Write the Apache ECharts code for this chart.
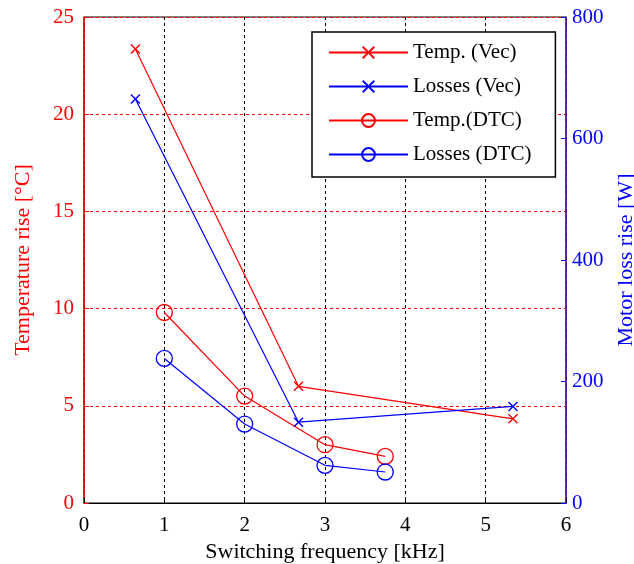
<!DOCTYPE html>
<html>
<head>
<meta charset="utf-8">
<script src="https://cdn.jsdelivr.net/npm/echarts@6/dist/echarts.min.js"></script>
<style>html,body{margin:0;padding:0;background:#fff;}#c{width:634px;height:564px;}</style>
</head>
<body>
<div id="c"></div>
<script>
// Data
var freqVec = [0.64, 2.67, 5.34];
var tempVec = [23.35, 6.0, 4.33];
var lossVec = [665, 133, 159];
var freqDTC = [1, 2, 3, 3.75];
var tempDTC = [9.8, 5.5, 3.0, 2.4];
var lossDTC = [238, 130, 62, 51];
var xTicks = [0, 1, 2, 3, 4, 5, 6];
var tempTicks = [0, 5, 10, 15, 20, 25];
var lossTicks = [0, 200, 400, 600, 800];

function pairs(xs, ys) { return xs.map(function (x, i) { return [x, ys[i]]; }); }

var FONT = '"Liberation Serif","Times New Roman",serif';
var RED = '#ff0000', BLUE = '#0000ff';
var CROSS = 'path://M0,1L1,0L10,9L9,10Z M9,0L10,1L1,10L0,9Z';

var chart = echarts.init(document.getElementById('c'), null, { renderer: 'canvas' });
chart.setOption({
  animation: false,
  backgroundColor: '#fff',
  grid: { left: 84, top: 17, width: 482, height: 486, outerBoundsMode: 'none', containLabel: false,
          show: true, borderColor: '#000', borderWidth: 1, backgroundColor: 'transparent' },
  legend: {
    orient: 'vertical', left: 312, top: 32,
    padding: [10, 24, 12, 16], itemGap: 13, itemWidth: 79, itemHeight: 16,
    backgroundColor: '#fff', borderColor: '#000', borderWidth: 1.5,
    textStyle: { fontFamily: FONT, fontSize: 21, color: '#000' },
    data: ['Temp. (Vec)', 'Losses (Vec)', 'Temp.(DTC)', 'Losses (DTC)']
  },
  xAxis: {
    type: 'value', min: xTicks[0], max: xTicks[xTicks.length - 1], interval: 1,
    name: 'Switching frequency [kHz]', nameLocation: 'middle', nameGap: 35,
    nameTextStyle: { fontFamily: FONT, fontSize: 22, color: '#000' },
    axisLine: { show: true, lineStyle: { color: '#000', width: 1 } },
    axisTick: { show: true, inside: true, length: 5, lineStyle: { color: '#000' } },
    axisLabel: { fontFamily: FONT, fontSize: 21, color: '#000', margin: 12 },
    splitLine: { show: true, lineStyle: { color: '#000', type: [3, 3], width: 1 } }
  },
  yAxis: [{
    type: 'value', min: tempTicks[0], max: tempTicks[tempTicks.length - 1], interval: 5,
    name: 'Temperature rise [\u00b0C]', nameLocation: 'middle', nameGap: 50,
    nameTextStyle: { fontFamily: FONT, fontSize: 22, color: RED },
    axisLine: { show: true, lineStyle: { color: RED, width: 1.5 } },
    axisTick: { show: true, inside: true, length: 5, lineStyle: { color: RED } },
    axisLabel: { fontFamily: FONT, fontSize: 21, color: RED, margin: 10 },
    splitLine: { show: true, lineStyle: { color: RED, type: [3, 3], width: 1 } }
  }, {
    type: 'value', min: lossTicks[0], max: lossTicks[lossTicks.length - 1], interval: 200,
    position: 'right',
    name: 'Motor loss rise [W]', nameLocation: 'middle', nameGap: 49,
    nameTextStyle: { fontFamily: FONT, fontSize: 22, color: BLUE },
    axisLine: { show: true, lineStyle: { color: '#6010a8', width: 1.5 } },
    axisTick: { show: true, inside: true, length: 5, lineStyle: { color: BLUE } },
    axisLabel: { fontFamily: FONT, fontSize: 21, color: BLUE, margin: 6 },
    splitLine: { show: false }
  }],
  series: [{
    name: 'Temp. (Vec)', type: 'line', yAxisIndex: 0, data: pairs(freqVec, tempVec),
    symbol: CROSS, symbolSize: 10,
    lineStyle: { color: RED, width: 1.2 }, itemStyle: { color: RED }
  }, {
    name: 'Losses (Vec)', type: 'line', yAxisIndex: 1, data: pairs(freqVec, lossVec),
    symbol: CROSS, symbolSize: 10,
    lineStyle: { color: BLUE, width: 1.2 }, itemStyle: { color: BLUE }
  }, {
    name: 'Temp.(DTC)', type: 'line', yAxisIndex: 0, data: pairs(freqDTC, tempDTC),
    symbol: 'circle', symbolSize: 16,
    lineStyle: { color: RED, width: 1.2 }, itemStyle: { color: 'rgba(0,0,0,0)', borderColor: RED, borderWidth: 1.3 }
  }, {
    name: 'Losses (DTC)', type: 'line', yAxisIndex: 1, data: pairs(freqDTC, lossDTC),
    symbol: 'circle', symbolSize: 16,
    lineStyle: { color: BLUE, width: 1.2 }, itemStyle: { color: 'rgba(0,0,0,0)', borderColor: BLUE, borderWidth: 1.3 }
  }]
});
</script>
</body>
</html>
